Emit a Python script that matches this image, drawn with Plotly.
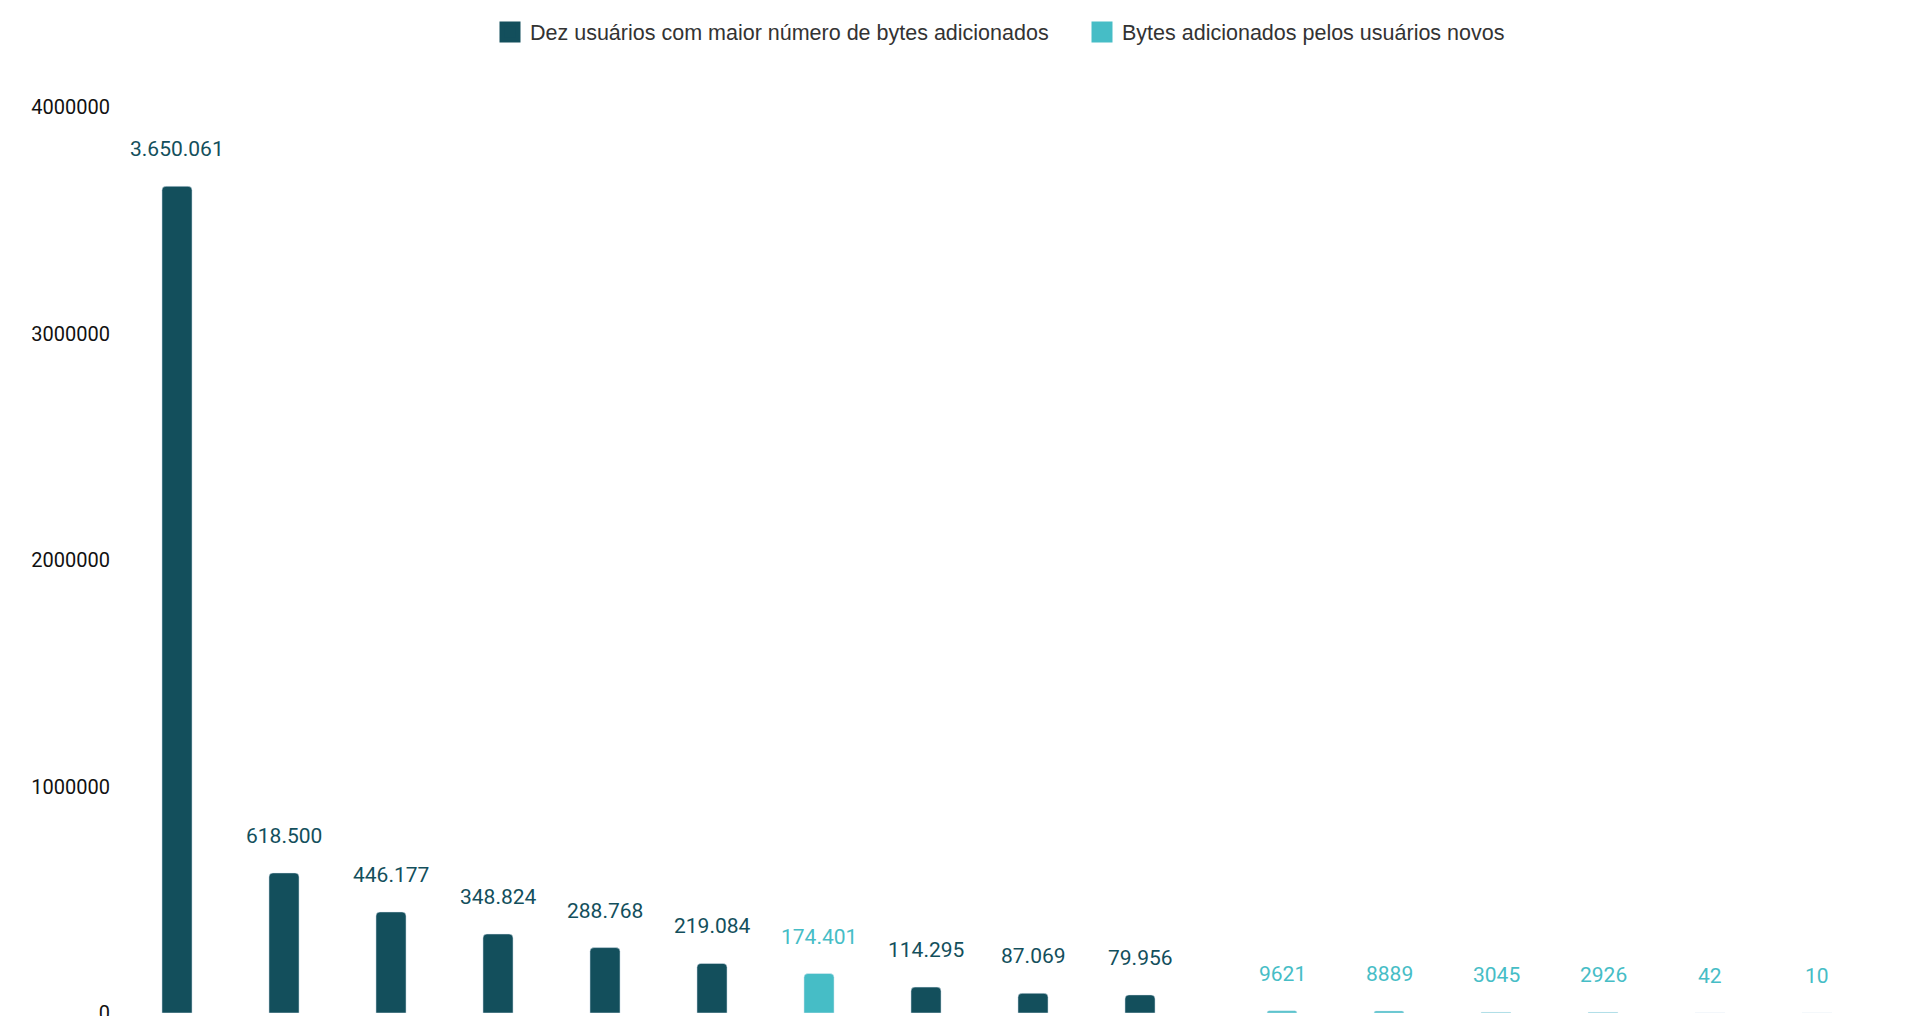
import plotly.graph_objects as go

# ---------------- data ----------------
categories = ["Usuário 1", "Usuário 2", "Usuário 3", "Usuário 4", "Usuário 5",
              "Usuário 6", "Usuário 7", "Usuário 8", "Usuário 9", "Usuário 10",
              "Usuário 11", "Usuário 12", "Usuário 13", "Usuário 14", "Usuário 15",
              "Usuário 16"]
top_users_bytes = [3650061, 618500, 446177, 348824, 288768, 219084, 174401,
                   114295, 87069, 79956, None, None, None, None, None, None]
new_users_bytes = [None, None, None, None, None, None, None, None, None, None,
                   9621, 8889, 3045, 2926, 42, 10]
highlighted = ["Usuário 7"]  # top-ten point that is also a new user
series_names = ["Dez usuários com maior número de bytes adicionados",
                "Bytes adicionados pelos usuários novos"]
y_ticks = [0, 1000000, 2000000, 3000000, 4000000]

# ---------------- style ----------------
DARK = "#134f5c"
CYAN = "#46bdc6"
FONT = "Roboto"
LEGEND_FONT = "Liberation Sans, Arial"
W, H = 1914, 1016

dark_colors = [CYAN if c in highlighted else DARK for c in categories]

fig = go.Figure()
fig.add_trace(go.Bar(x=categories, y=top_users_bytes, name=series_names[0],
                     marker=dict(color=dark_colors, cornerradius=4),
                     showlegend=False, hoverinfo="y"))
fig.add_trace(go.Bar(x=categories, y=new_users_bytes, name=series_names[1],
                     marker=dict(color=CYAN, cornerradius=4),
                     showlegend=False, hoverinfo="y"))
# legend proxies (bigger square swatches)
for name, col in zip(series_names, [DARK, CYAN]):
    fig.add_trace(go.Scatter(x=[None], y=[None], mode="markers", name=name,
                             marker=dict(symbol="square", size=16, color=col,
                                         line=dict(color=col, width=5)),
                             showlegend=True))

def fmt_dot(v):
    return f"{v:,}".replace(",", ".")

annotations = []
for c, v, col in zip(categories, top_users_bytes, dark_colors):
    if v is None:
        continue
    annotations.append(dict(x=c, y=v, xref="x", yref="y", text=fmt_dot(v),
                            showarrow=False, xshift=-17.5, yshift=37,
                            yanchor="middle", font=dict(family=FONT, size=21, color=col)))
for c, v in zip(categories, new_users_bytes):
    if v is None:
        continue
    annotations.append(dict(x=c, y=v, xref="x", yref="y", text=str(v),
                            showarrow=False, xshift=17.5, yshift=37,
                            yanchor="middle", font=dict(family=FONT, size=21, color=CYAN)))

fig.update_layout(
    width=W, height=H,
    margin=dict(l=141, r=61, t=107, b=3, autoexpand=False),
    paper_bgcolor="white", plot_bgcolor="white",
    barmode="group", bargap=0.346, bargroupgap=0.14,
    font=dict(family=FONT, size=20, color="#222222"),
    legend=dict(orientation="h", xref="container", yref="container",
                x=490 / W, xanchor="left", y=1 - 32 / H, yanchor="middle",
                entrywidth=547, entrywidthmode="pixels",
                font=dict(family=LEGEND_FONT, size=21.5, color="#333333"),
                itemclick=False),
    annotations=annotations,
    xaxis=dict(type="category", categoryorder="array", categoryarray=categories,
               range=[-0.5, len(categories) - 0.5],
               showticklabels=False, showgrid=False, zeroline=False,
               showline=False, ticks=""),
    yaxis=dict(range=[0, 4000000], tickvals=y_ticks, tickformat="d",
               showgrid=False, zeroline=False, showline=False, ticks="",
               ticklabelstandoff=30, ticklabeloverflow="allow",
               tickfont=dict(family=FONT, size=20, color="#111111")),
    hovermode="closest",
)
fig.update_traces(cliponaxis=False, selector=dict(type="bar"))

fig.write_html("out.html", config={"displayModeBar": False, "responsive": False},
               post_script="document.body.style.margin='0';document.body.style.overflow='hidden';")
